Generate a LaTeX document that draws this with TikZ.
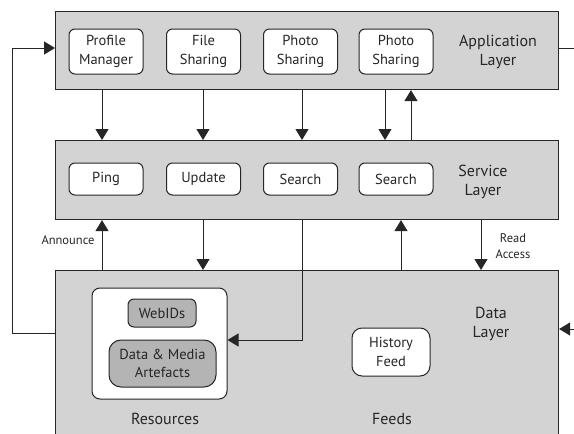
\documentclass[tikz,border=0pt]{standalone}
\usepackage{fontspec}
\setmainfont{PT Sans}
\usetikzlibrary{arrows.meta}
\definecolor{layergray}{HTML}{D3D3D3}
\definecolor{boxgray}{HTML}{B4B4B4}
\definecolor{ink}{HTML}{262626}
\begin{document}
\begin{tikzpicture}[x=1pt,y=-1pt,
  layer/.style={draw=ink, fill=layergray, line width=1.1pt, minimum width=503pt, inner sep=0pt, anchor=north west},
  ibox/.style={draw=ink, fill=white, line width=1pt, rounded corners=6pt, minimum width=74pt, inner sep=0pt, align=center, text=ink, font=\fontsize{14.5}{18.5}\selectfont},
  gbox/.style={ibox, fill=boxgray},
  lbl/.style={text=ink, align=center, font=\fontsize{16}{19.5}\selectfont},
  slbl/.style={text=ink, align=center, font=\fontsize{12.5}{16.5}\selectfont},
  conn/.style={draw=ink, line width=1pt},
  arr/.style={conn, -{Triangle[width=13pt,length=11pt]}}]
\clip (0,0) rectangle (574,434);
% layers
\node[layer, minimum height=78pt] (app) at (55,11) {};
\node[layer, minimum height=79pt] (srv) at (55,140) {};
\node[layer, minimum height=175pt] (dat) at (55,270) {};
% application boxes
\node[ibox, minimum height=45pt] (pm) at (106,51.5) {Profile\\Manager};
\node[ibox, minimum height=45pt] (fs) at (203.5,51.5) {File\\Sharing};
\node[ibox, minimum height=45pt] (ps1) at (300.5,51.5) {Photo\\Sharing};
\node[ibox, minimum height=45pt] (ps2) at (396,51.5) {Photo\\Sharing};
\node[lbl] (appl) at (498,52) {Application\\Layer};
% service boxes
\node[ibox, minimum height=32pt] (ping) at (106,179) {Ping};
\node[ibox, minimum height=32pt] (upd) at (203.5,179) {Update};
\node[ibox, minimum height=32pt] (se1) at (300.5,179) {Search};
\node[ibox, minimum height=32pt] (se2) at (396,179) {Search};
\node[lbl] (srvl) at (483,182) {Service\\Layer};
% data layer
\node[draw=ink, fill=white, line width=1pt, rounded corners=8pt, minimum width=135pt, minimum height=111pt] (res) at (159.5,343.5) {};
\node[gbox, minimum width=68pt, minimum height=28pt] (web) at (162,313) {WebIDs};
\node[gbox, rounded corners=12pt, minimum width=107pt, minimum height=47pt] (dma) at (162.5,363.5) {Data \& Media\\Artefacts};
\node[ibox, rounded corners=10pt, minimum width=78pt, minimum height=48pt] (hf) at (391,352) {History\\Feed};
\node[lbl] (datl) at (491,324) {Data\\Layer};
\node[lbl] (resl) at (165,419) {Resources};
\node[lbl] (feedl) at (392,419) {Feeds};
\node[slbl, anchor=east] (ann) at (98,240) {Announce};
\node[slbl] (ra) at (513,246) {Read\\Access};
% x positions of connectors
\coordinate (x1) at (102,0);
\coordinate (x2) at (203,0);
\coordinate (x3) at (302,0);
\coordinate (x4) at (385,0);
\coordinate (x5) at (411,0);
\coordinate (x6) at (401,0);
\coordinate (x7) at (481,0);
% application -> service
\draw[arr] (app.south -| x1) -- (srv.north -| x1);
\draw[arr] (app.south -| x2) -- (srv.north -| x2);
\draw[arr] (app.south -| x3) -- (srv.north -| x3);
\draw[arr] (app.south -| x4) -- (srv.north -| x4);
\draw[arr] (srv.north -| x5) -- (app.south -| x5);
% service <-> data
\draw[arr] (dat.north -| x1) -- (srv.south -| x1);
\draw[arr] (srv.south -| x2) -- (dat.north -| x2);
\draw[arr] (dat.north -| x6) -- (srv.south -| x6);
\draw[arr] (srv.south -| x7) -- (dat.north -| x7);
\coordinate (s1) at (302,340);
\draw[arr] (srv.south -| s1) -- (s1) -- (res.east |- s1);
% outer loops
\coordinate (l1) at (12,333);
\coordinate (l2) at (12,48);
\draw[arr] (dat.west |- l1) -- (l1) -- (l2) -- (app.west |- l2);
\coordinate (r1) at (576,48);
\draw[conn] (app.east |- r1) -- (r1);
\coordinate (r2) at (576,329);
\draw[arr] (r2) -- (dat.east |- r2);
\end{tikzpicture}
\end{document}
